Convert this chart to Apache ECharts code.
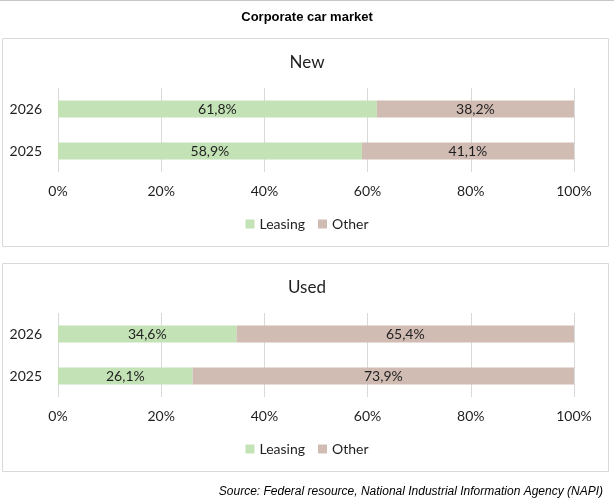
<!DOCTYPE html>
<html>
<head>
<meta charset="utf-8">
<script src="https://cdn.jsdelivr.net/npm/echarts@6.0.0/dist/echarts.min.js"></script>
<style>
  html, body { margin: 0; padding: 0; background: #fff; }
  #chart { width: 614px; height: 503px; }
</style>
</head>
<body>
<div id="chart"></div>
<script>
// данные диаграммы
const years = ['2025', '2026'];
const xTicks = [0, 20, 40, 60, 80, 100];
const newLeasing = [58.9, 61.8];
const newOther = [41.1, 38.2];
const usedLeasing = [26.1, 34.6];
const usedOther = [73.9, 65.4];

const GREEN = '#c3e2b5';
const BROWN = '#d1bcb4';
const TXT = '#1f1f1f';
const FONT = 'Lato, "Noto Sans", sans-serif';

const chart = echarts.init(document.getElementById('chart'));

function fmt(v) {
    return v.toFixed(1).replace('.', ',') + '%';
}

function barSeries(name, data, idx, color) {
    return {
        name: name,
        type: 'bar',
        stack: 'total' + idx,
        xAxisIndex: idx,
        yAxisIndex: idx,
        data: data,
        barWidth: 17,
        itemStyle: { color: color },
        label: {
            show: true,
            position: 'inside',
            color: TXT,
            fontFamily: FONT,
            fontSize: 14,
            formatter: p => fmt(p.value)
        }
    };
}

function xAxis(idx) {
    return {
        type: 'value',
        gridIndex: idx,
        min: xTicks[0],
        max: xTicks[xTicks.length - 1],
        interval: 20,
        axisLine: { show: false },
        axisTick: { show: false },
        splitLine: { lineStyle: { color: '#d9d9d9', width: 1 } },
        axisLabel: {
            margin: 12,
            color: TXT,
            fontFamily: FONT,
            fontSize: 14,
            formatter: '{value}%'
        }
    };
}

function yAxis(idx) {
    return {
        type: 'category',
        gridIndex: idx,
        data: years,
        axisLine: { show: false },
        axisTick: { show: false },
        axisLabel: { margin: 16, color: TXT, fontFamily: FONT, fontSize: 14 }
    };
}

function legend(top) {
    return {
        top: top,
        left: 'center',
        data: ['Leasing', 'Other'],
        itemWidth: 9,
        itemHeight: 9,
        itemGap: 13,
        icon: 'rect',
        textStyle: { color: TXT, fontFamily: FONT, fontSize: 14 }
    };
}

const option = {
    animation: false,
    backgroundColor: '#fff',
    title: [
        {
            text: 'Corporate car market',
            left: 'center',
            top: 6,
            textStyle: { fontFamily: 'Liberation Sans, Arial, sans-serif', fontWeight: 'bold', fontSize: 13, color: '#000' }
        },
        {
            text: 'New',
            left: 'center',
            top: 49,
            textStyle: { fontFamily: FONT, fontWeight: 'normal', fontSize: 17, color: TXT }
        },
        {
            text: 'Used',
            left: 'center',
            top: 274,
            textStyle: { fontFamily: FONT, fontWeight: 'normal', fontSize: 17, color: TXT }
        }
    ],
    legend: [legend(212), legend(437)],
    grid: [
        { left: 58, right: 40, top: 88, height: 84 },
        { left: 58, right: 40, top: 313, height: 84 }
    ],
    xAxis: [xAxis(0), xAxis(1)],
    yAxis: [yAxis(0), yAxis(1)],
    series: [
        barSeries('Leasing', newLeasing, 0, GREEN),
        barSeries('Other', newOther, 0, BROWN),
        barSeries('Leasing', usedLeasing, 1, GREEN),
        barSeries('Other', usedOther, 1, BROWN)
    ],
    graphic: [
        {
            type: 'line',
            shape: { x1: 0, y1: 0.5, x2: 614, y2: 0.5 },
            style: { stroke: '#c8c8c8', lineWidth: 1 }
        },
        {
            type: 'rect',
            shape: { x: 2.5, y: 38.5, width: 606, height: 208 },
            style: { fill: 'none', stroke: '#d9d9d9', lineWidth: 1 },
            z: -1
        },
        {
            type: 'rect',
            shape: { x: 2.5, y: 263.5, width: 606, height: 208 },
            style: { fill: 'none', stroke: '#d9d9d9', lineWidth: 1 },
            z: -1
        },
        {
            type: 'text',
            right: 11,
            top: 486,
            style: {
                text: 'Source: Federal resource, National Industrial Information Agency (NAPI)',
                font: 'italic 12px "Liberation Sans", Arial, sans-serif',
                fill: '#000'
            }
        }
    ]
};

chart.setOption(option);
</script>
</body>
</html>
